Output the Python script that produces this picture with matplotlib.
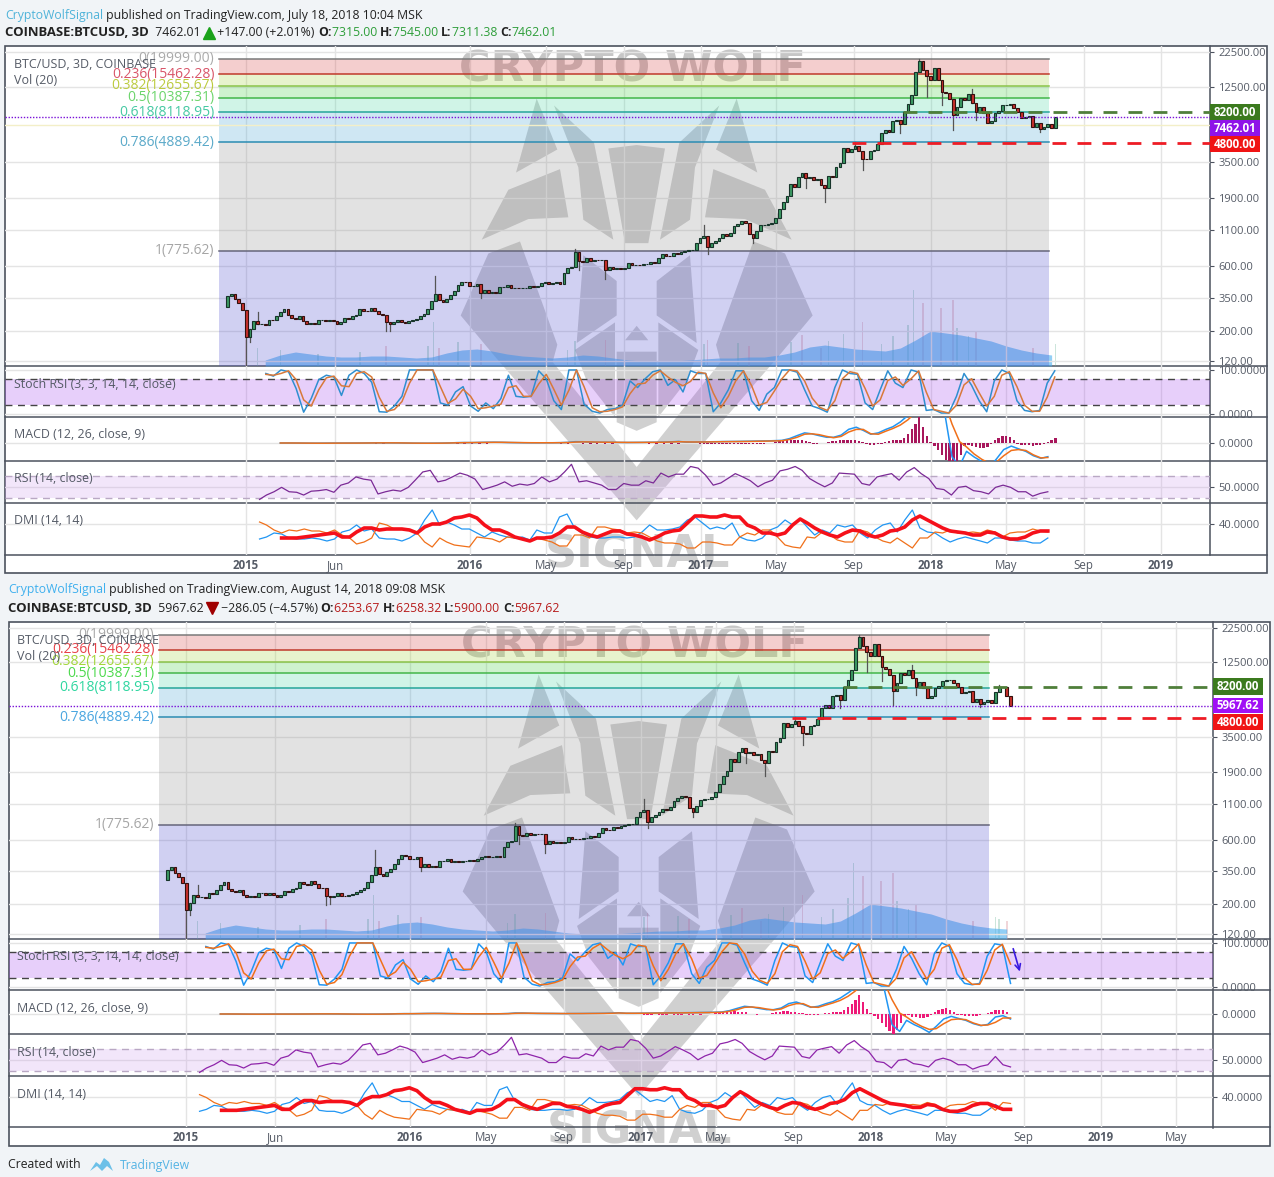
import numpy as np
import pandas as pd
import matplotlib
matplotlib.use('Agg')
import matplotlib.pyplot as plt
from matplotlib.patches import Polygon, Rectangle
from matplotlib.ticker import FormatStrFormatter, NullLocator

W, H = 1274, 1177
plt.rcParams['font.family'] = ['Open Sans', 'DejaVu Sans']

# --- prices, one close every 6 days from 2014-12-12
closes_2015 = [360, 375, 340, 320, 285, 180, 205, 235, 225, 225, 222, 240, 238, 255, 275, 290, 260, 250, 245, 255,
               235, 225, 228, 225, 240, 240, 235, 240, 235, 225, 232, 250, 245, 258, 262, 290, 280, 277, 295, 280,
               265, 262, 230, 225, 230, 240, 230, 228, 235, 238, 245, 255, 265, 290, 330, 375, 335, 325, 345, 365,
               395, 435, 460, 455, 430]
closes_2016 = [430, 445, 380, 400, 380, 385, 380, 420, 420, 435, 410, 415, 410, 415, 415, 425, 420, 430, 450, 455,
               445, 450, 455, 445, 530, 575, 590, 760, 650, 640, 680, 650, 665, 660, 660, 560, 590, 570, 580, 570,
               575, 625, 610, 610, 605, 615, 620, 640, 630, 680, 730, 710, 705, 750, 735, 755, 770, 780, 790, 890,
               965]
closes_2017 = [1000, 820, 890, 915, 970, 1025, 1000, 1050, 1175, 1220, 1280, 1240, 1030, 960, 1075, 1190, 1200, 1210,
               1245, 1350, 1570, 1780, 1950, 2400, 2280, 2700, 2900, 2650, 2700, 2550, 2600, 2350, 2250, 2750, 2700,
               3200, 3450, 4400, 4100, 4350, 4550, 4200, 3700, 3650, 4200, 4300, 4700, 5700, 6000, 5750, 7000, 7150,
               6600, 8200, 9300, 10900, 16000, 19400, 16500, 15000, 14000]
closes_2018 = [17200, 14000, 11500, 11200, 10100, 7700, 8800, 10400, 10000, 11000, 9500, 8200, 8900, 8000, 6800, 7000,
               8000, 8300, 9100, 9200, 9300, 8700, 8200, 7400, 7500, 7650, 6300, 6700, 6100, 6350, 6600, 6250, 7462.01,
               8200, 8200, 7000, 5967.62]

wick_dates = ['2015-01-11', '2015-01-17', '2015-01-29', '2015-08-21', '2015-08-27', '2015-11-07', '2016-01-18',
              '2016-06-16', '2016-06-22', '2016-08-03', '2017-01-06', '2017-01-12', '2017-03-25', '2017-06-17',
              '2017-07-17', '2017-09-03', '2017-09-15', '2017-11-14', '2017-12-14', '2017-12-26', '2018-01-19',
              '2018-02-06', '2018-03-08', '2018-03-14', '2018-06-24', '2018-07-24']
wick_prices = [111, 165, 275, 198, 200, 505, 350, 800, 560, 480, 1200, 740, 890, 2250, 1780, 4900, 3050, 5700, 19900,
               10500, 9150, 6000, 12000, 7100, 5780, 8500]

# --- volume, in pane units
vol_ma_dates = pd.date_range('2015-02-10', periods=54, freq='24D')
vol_ma = [6, 11, 14, 12, 10, 9, 9, 10, 10, 9, 8, 9, 13, 16, 17, 15, 12, 10, 9, 8, 9, 11, 10, 8, 6, 5, 5, 5, 6, 7, 8, 8,
          9, 9, 11, 14, 19, 21, 19, 17, 16, 15, 18, 26, 35, 33, 31, 28, 25, 20, 16, 13, 11, 10]
vol_up_dates = ['2015-01-29', '2015-03-06', '2015-05-05', '2015-07-10', '2015-10-26', '2015-11-04', '2015-12-13',
                '2016-06-04', '2016-06-16', '2017-01-06', '2017-03-01', '2017-05-24', '2017-07-23', '2017-08-16',
                '2017-10-15', '2017-11-02', '2017-11-26', '2017-12-05', '2018-02-12', '2018-03-02', '2018-07-18',
                '2018-07-24']
vol_up = [18, 16, 12, 14, 20, 44, 24, 16, 25, 22, 23, 24, 25, 32, 22, 30, 41, 76, 38, 30, 22, 20]
vol_down_dates = ['2015-01-11', '2015-08-21', '2015-11-13', '2016-01-18', '2016-08-03', '2017-01-12', '2017-03-19',
                  '2017-06-11', '2017-07-11', '2017-09-15', '2017-12-20', '2018-01-17', '2018-02-05', '2018-03-14',
                  '2018-06-12', '2018-08-05']
vol_down = [26, 20, 18, 22, 26, 26, 20, 31, 18, 44, 63, 58, 66, 34, 18, 18]

# --- oscillators, read every ~12 days
stoch_k = [92, 86, 100, 96, 58, 4, 35, 78, 88, 84, 42, 88, 100, 92, 72, 5, 4, 18, 40, 100, 100, 100, 100, 25, 20, 50,
           62, 18, 6, 25, 12, 35, 88, 40, 38, 40, 98, 80, 30, 10, 100, 100, 22, 6, 2, 10, 12, 20, 75, 60, 80, 96, 100,
           65, 78, 50, 98, 92, 92, 5, 25, 55, 98, 98, 30, 8, 45, 60, 100, 100, 95, 55, 18, 12, 4, 60, 100, 92, 90, 25,
           10, 55, 98, 70, 60, 100, 95, 8, 10, 2, 2, 40, 92, 65, 30, 5, 75, 100, 92, 30, 8, 5, 8, 70, 98, 95, 8]
stoch_d = [90, 88, 92, 98, 78, 32, 18, 55, 82, 86, 64, 62, 92, 96, 84, 38, 6, 10, 28, 70, 100, 100, 100, 62, 24, 34,
           56, 40, 12, 14, 18, 22, 60, 64, 40, 40, 68, 90, 56, 20, 54, 100, 62, 14, 5, 6, 10, 16, 46, 68, 70, 88, 98,
           84, 72, 64, 74, 95, 92, 48, 14, 40, 76, 98, 64, 20, 26, 52, 80, 100, 98, 75, 36, 15, 8, 30, 80, 96, 92, 58,
           18, 32, 76, 84, 65, 80, 98, 50, 10, 6, 2, 20, 66, 80, 48, 18, 40, 88, 96, 62, 20, 6, 6, 38, 84, 97, 52]
rsi = [28, 36, 42, 50, 42, 41, 36, 43, 44, 46, 41, 54, 58, 69, 65, 63, 38, 42, 45, 43, 50, 63, 78, 81, 60, 63, 69, 76,
       72, 65, 46, 50, 54, 60, 52, 56, 54, 57, 69, 60, 65, 78, 92, 60, 62, 58, 54, 46, 46, 57, 54, 54, 62, 58, 76, 69,
       74, 74, 88, 85, 72, 54, 58, 66, 75, 69, 62, 51, 58, 63, 80, 83, 88, 81, 66, 58, 51, 58, 76, 75, 74, 57, 54, 69,
       72, 75, 63, 78, 86, 75, 66, 48, 46, 36, 50, 52, 44, 42, 38, 50, 54, 50, 42, 42, 34, 39, 42, 57, 42, 38]
plus_di = [25, 27, 31, 30, 26, 25, 25, 26, 25, 23, 25, 32, 34, 39, 33, 35, 26, 25, 25, 23, 26, 31, 44, 54, 39, 42, 39,
           35, 35, 31, 27, 32, 29, 27, 26, 27, 24, 34, 31, 31, 47, 50, 36, 31, 27, 26, 26, 27, 27, 26, 27, 32, 39, 34,
           34, 35, 37, 44, 47, 41, 35, 37, 35, 41, 27, 24, 23, 26, 34, 37, 44, 39, 45, 37, 29, 34, 31, 39, 37, 39, 31,
           26, 34, 39, 41, 32, 44, 54, 36, 32, 31, 26, 22, 25, 27, 25, 23, 21, 26, 26, 24, 23, 23, 21, 21, 26, 32, 27,
           26]
minus_di = [42, 39, 34, 31, 34, 33, 35, 33, 33, 31, 34, 29, 26, 20, 22, 26, 41, 39, 35, 35, 34, 31, 22, 17, 26, 22, 19,
            18, 17, 27, 26, 25, 22, 27, 26, 25, 23, 26, 24, 22, 18, 18, 29, 29, 26, 37, 37, 35, 34, 31, 32, 31, 27, 23,
            21, 21, 20, 16, 16, 22, 22, 21, 19, 19, 27, 31, 29, 34, 34, 27, 19, 17, 16, 27, 26, 32, 29, 24, 22, 22, 34,
            32, 27, 23, 21, 26, 21, 16, 26, 26, 32, 31, 34, 31, 31, 32, 31, 34, 32, 27, 31, 32, 32, 35, 33, 32, 26, 34,
            33]
adx = [26, 26, 26, 27, 28, 29, 30, 31, 27, 27, 32, 36, 36, 34, 35, 35, 35, 34, 31, 37, 40, 40, 42, 46, 47, 49, 46, 39,
       34, 34, 31, 27, 25, 23, 26, 26, 27, 31, 37, 37, 32, 29, 27, 30, 33, 33, 30, 29, 27, 24, 27, 31, 33, 34, 41, 48,
       48, 47, 47, 49, 47, 47, 39, 36, 31, 31, 29, 31, 39, 45, 41, 36, 32, 29, 27, 31, 34, 33, 29, 27, 29, 33, 34, 37,
       44, 48, 44, 40, 36, 33, 32, 31, 29, 29, 32, 31, 27, 25, 25, 27, 31, 33, 33, 30, 27, 27]

macd_line = [0, 0, -2, -5, -8, -8, -6, -4, -3, -3, -2, -1, 2, 5, 6, 5, 3, -2, -6, -8, -8, -6, -4, 2, 15, 18, 16, 22, 28,
             30, 26, 18, 14, 10, 8, 8, 9, 10, 14, 25, 50, 48, 35, 30, 28, 26, 22, 20, 22, 24, 28, 30, 34, 45, 60,
             35, 35, 40, 45, 50, 55, 58, 60, 65, 70, 75, 80, 90, 100, 167, 280, 385, 350, 280, 217, 217, 300, 520, 600,
             480, 333, 385, 517, 617, 800, 1050, 1300, 1800, 2200, 2000, 1186, -530, -870, -317, -530, -700, -920,
             -620, -250, -117, -217, -317, -483, -583, -520, -150, -83, -250]
macd_signal = [0, 0, -1, -3, -5, -7, -7, -5, -4, -3, -3, -2, 0, 3, 5, 5, 4, 0, -4, -6, -8, -7, -5, 0, 8, 14, 16, 20, 24,
               27, 27, 22, 17, 13, 10, 9, 9, 9, 12, 18, 35, 42, 40, 34, 30, 28, 25, 22, 22, 23, 25, 28, 31, 38, 50,
               40, 38, 38, 40, 45, 50, 52, 55, 58, 62, 68, 72, 78, 85, 133, 217, 333, 350, 317, 250, 200, 250, 417, 517,
               517, 350, 333, 450, 550, 683, 883, 1133, 1470, 1720, 1890, 1550, 717, 50, -150, -417, -617, -770,
               -733, -483, -283, -250, -283, -450, -567, -550, -417, -200, -200]
hist_early = [0, 0, 0, 0, 0, 0, 0, 0, 0, 0, 0, 0, -18, -22, -22, -18, 0, 0, 0, 0, 0, 0, 0, -18, -22, -22, -20, -22, -20,
              0, 0, 0, 0, 0, 0, 0, 0, 0, -20, -22, 0, -22, -22, -24, -22, -20, 0, 0, 0, 0, -20, -22, -22, -22, -20]
hist_2017 = [-20, -25, -30, -25, -20, -30, -30, -25, -20, -25, -30, -25, -20, -30, -25, -20, -25, -20, -10, 10, 50, 70,
             90, 110, 120, 130, 120, 100, 80, 20, -20, -30, 0, 10, 20, 60, 90, 110, 130, 130, 120, 100, 70, 30, -40,
             -70, -70, -50, -20, 40, 70, 110, 100, 120, 200, 350, 520, 720, 970, 600, 250, 30, -100, -250, -450, -650,
             -850, -985, -800, -450, -100, -60, -130, -170, -180, -190, -170, -40, 120, 200, 260, 280, 220, 100, -30,
             -70, -80, -90, -100, -90, -60, -20, 50, 120, 180, 220, 200, 80, -20]
hist_2017_start = '2016-12-31'

# --- levels and labels
fib_ratios = ['0', '0.236', '0.382', '0.5', '0.618', '0.786', '1']
fib_levels = [19999.00, 15462.28, 12655.67, 10387.31, 8118.95, 4889.42, 775.62]
fib_start = '2014-11-28'
fib_end = '2018-07-08'
price_ticks = [22500, 12500, 3500, 1900, 1100, 600, 350, 200, 120]
resistance = 8200
support = 4800
resistance_start = '2017-11-18'
support_start = '2017-08-29'

tick_dates = ['2015-01-10', '2015-06-01', '2016-01-01', '2016-05-01', '2016-09-01', '2017-01-01', '2017-05-01',
              '2017-09-01', '2018-01-01', '2018-05-01', '2018-09-01', '2019-01-01', '2019-05-01']
tick_labels = ['2015', 'Jun', '2016', 'May', 'Sep', '2017', 'May', 'Sep', '2018', 'May', 'Sep', '2019', 'May']

ORIGIN = pd.Timestamp('2015-01-01')
PX_PER_DAY = 230 / 365
END_DATE = '2018-08-11'


def days(dates):
    return np.asarray((pd.to_datetime(dates) - ORIGIN).days, dtype=float)


price_dates = pd.date_range('2014-12-12', periods=len(closes_2015 + closes_2016 + closes_2017 + closes_2018), freq='6D')
closes = np.array(closes_2015 + closes_2016 + closes_2017 + closes_2018, dtype=float)
opens = np.concatenate([[300.0], closes[:-1]])

stoch_dates = pd.date_range('2015-02-11', END_DATE, periods=len(stoch_k))
rsi_dates = pd.date_range('2015-02-01', END_DATE, periods=len(rsi))
dmi_dates = pd.date_range('2015-02-01', END_DATE, periods=len(plus_di))
adx_dates = dmi_dates[-len(adx):]
macd_dates = pd.date_range('2015-03-06', END_DATE, periods=len(macd_line))
hist_dates = pd.date_range(hist_2017_start, periods=len(hist_2017), freq='6D')


def rect(l, r, t, b):
    return [l / W, 1 - b / H, (r - l) / W, (b - t) / H]


fig = plt.figure(figsize=(W / 100, H / 100), dpi=100, facecolor='#f1f4f7')

# underlay: white chart areas and the watermark, panes are transparent on top of it
under = fig.add_axes([0, 0, 1, 1], zorder=0)
under.set_xlim(0, W)
under.set_ylim(H, 0)
under.axis('off')
# overlay for all the header and label text
over = fig.add_axes([0, 0, 1, 1], zorder=5)
over.set_xlim(0, W)
over.set_ylim(H, 0)
over.axis('off')
over.patch.set_alpha(0)

renderer = fig.canvas.get_renderer()


def text_run(x, y, parts, size):
    # parts are (text, colour, weight, size factor)
    for s, c, w, f in parts:
        t = over.text(x, y, s, color=c, fontsize=size * f, fontweight=w, va='center', ha='left')
        x += t.get_window_extent(renderer).width
    return x


def mw(u, v):
    return 440 + u / 3, 40 + v / 2.904


half_shapes = [
    [(290, 170), (352, 318), (228, 385)],
    [(342, 190), (462, 298), (520, 580), (430, 522), (415, 370)],
    [(205, 435), (360, 375), (385, 515), (265, 520), (125, 580)],
    [(62, 800), (145, 620), (240, 585), (352, 885), (338, 935), (170, 925)],
    [(430, 625), (530, 700), (530, 800), (410, 880)],
    [(405, 900), (525, 820), (525, 1095), (440, 990)],
    [(170, 925), (338, 935), (590, 1240), (590, 1395)],
]
center_shapes = [
    [(505, 315), (590, 305), (675, 315), (625, 590), (555, 590)],
    [(590, 830), (625, 872), (555, 872)],
    [(530, 905), (650, 905), (650, 1110), (590, 1135), (530, 1110)],
]


def watermark(dx, dy):
    for shape in half_shapes:
        left = [(mw(u, v)[0] + dx, mw(u, v)[1] + dy) for u, v in shape]
        right = [(mw(1180 - u, v)[0] + dx, mw(1180 - u, v)[1] + dy) for u, v in shape]
        under.add_patch(Polygon(left, closed=True, fc='#444444', ec='none', alpha=0.25, zorder=2))
        under.add_patch(Polygon(right, closed=True, fc='#444444', ec='none', alpha=0.25, zorder=2))
    for shape in center_shapes:
        pts = [(mw(u, v)[0] + dx, mw(u, v)[1] + dy) for u, v in shape]
        under.add_patch(Polygon(pts, closed=True, fc='#444444', ec='none', alpha=0.25, zorder=2))
    under.text(632 + dx, 69 + dy, 'CRYPTO WOLF', fontsize=31, fontweight='bold', color='#444444', alpha=0.3,
               ha='center', va='center', zorder=2, fontfamily='DejaVu Sans')
    under.text(637 + dx, 555 + dy, 'SIGNAL', fontsize=32, fontweight='bold', color='#444444', alpha=0.25,
               ha='center', va='center', zorder=2, fontfamily='DejaVu Sans')


band_colors = ['#d73f3f', '#a3d33b', '#3fcf3f', '#47d7a3', '#43a3d3', '#8f8f8f']
fib_line_colors = ['#7a7a7a', '#c0392b', '#8bc34a', '#43b649', '#26a69a', '#2b8cb3', '#66667a']
GRID = '#e4e4e4'
AXIS = '#4c525e'
LABEL = '#555b66'


def draw_chart(left, right, sep, top, panes, px0, last_date, fib_text_colors, price_box, macd_ylim, legend_x,
               line_dark):
    main_b, st_b, mc_b, rs_b, dm_b, bot = panes
    under.add_patch(Rectangle((left, top), right - left, bot - top, fc='white', ec=AXIS, lw=1.2, zorder=1))
    for yy in [main_b, st_b, mc_b, rs_b, dm_b]:
        under.plot([left, right], [yy, yy], color=AXIS, lw=1.1, zorder=3)
    under.plot([sep, sep], [top, bot - 18], color=AXIS, lw=1.1, zorder=3)

    xlim = ((left - px0) / PX_PER_DAY, (sep - px0) / PX_PER_DAY)
    ax = fig.add_axes(rect(left, sep, top, main_b), zorder=2)
    st = fig.add_axes(rect(left, sep, main_b, st_b), zorder=2)
    mc = fig.add_axes(rect(left, sep, st_b, mc_b), zorder=2)
    rs = fig.add_axes(rect(left, sep, mc_b, rs_b), zorder=2)
    dm = fig.add_axes(rect(left, sep, rs_b, dm_b), zorder=2)
    for a in [ax, st, mc, rs, dm]:
        a.patch.set_alpha(0)
        for s in a.spines.values():
            s.set_visible(False)
        a.set_xticks(days(tick_dates))
        a.set_xlim(*xlim)
        a.grid(True, color=GRID, lw=1, zorder=0)
        a.set_axisbelow(True)
        a.yaxis.tick_right()
        a.tick_params(axis='y', length=3, width=0.8, color=AXIS, labelcolor=LABEL, labelsize=8, pad=3)
        a.tick_params(axis='x', length=0, labelbottom=False)

    # main pane
    ax.set_yscale('log')
    ax.set_ylim(110, 24900)
    ax.set_yticks(price_ticks)
    ax.yaxis.set_minor_locator(NullLocator())
    ax.yaxis.set_major_formatter(FormatStrFormatter('%.2f'))

    fx = days([fib_start, fib_end])
    for i, color in enumerate(band_colors):
        ax.fill_between(fx, fib_levels[i + 1], fib_levels[i], color=color, alpha=0.25, lw=0, zorder=1)
    ax.fill_between(fx, 110, fib_levels[-1], color='#4747cf', alpha=0.25, lw=0, zorder=1)
    for lvl, c, ratio, tc in zip(fib_levels, fib_line_colors, fib_ratios, fib_text_colors):
        ax.plot(fx, [lvl, lvl], color=c, lw=1.1, zorder=2)
        ax.annotate('%s(%.2f)' % (ratio, lvl), xy=(fx[0], lvl), xytext=(-3, 0), textcoords='offset points',
                    ha='right', va='center', color=tc, fontsize=10, annotation_clip=False, zorder=6)

    # volume sits in a twin axis behind the candles
    vol = ax.twinx()
    ax.yaxis.tick_right()
    vol.patch.set_alpha(0)
    vol.set_xlim(*xlim)
    vol.set_ylim(0, main_b - top)
    vol.axis('off')
    vol.set_zorder(ax.get_zorder() - 1)
    end_ts = pd.Timestamp(last_date)
    vd = vol_ma_dates[vol_ma_dates <= end_ts]
    vol.fill_between(days(vd), 0, vol_ma[:len(vd)], color='#4fb0f0', alpha=0.62, lw=0, zorder=2)
    for dates, vals, col in [(vol_up_dates, vol_up, '#6fb59a'), (vol_down_dates, vol_down, '#d98a94')]:
        mask = pd.to_datetime(dates) <= end_ts
        vol.bar(days(dates)[mask], np.array(vals)[mask], width=2.6, color=col, alpha=0.35, zorder=1)

    mask = price_dates <= end_ts
    x = days(price_dates[mask])
    o, c = opens[mask], closes[mask]
    up = c >= o
    wd = pd.to_datetime(wick_dates)
    keep = wd <= end_ts
    # wicks run from the level to the body of that bar
    for d, p in zip(wd[keep], np.array(wick_prices)[keep]):
        i = np.argmin(np.abs(price_dates - d))
        ax.plot(days([price_dates[i], price_dates[i]]), [p, closes[i]], color='#555555', lw=0.9, zorder=3)
    ax.bar(x[up], (c - o)[up], bottom=o[up], width=4.4, color='#3c9a63', edgecolor='#17342a', lw=0.8, zorder=4)
    ax.bar(x[~up], (o - c)[~up], bottom=c[~up], width=4.4, color='#c9302c', edgecolor='#33110f', lw=0.8, zorder=4)

    end = xlim[1]
    ax.plot([days([resistance_start])[0], end], [resistance, resistance], color='#4f7f3a', lw=2, ls=(0, (5, 4)), zorder=5)
    ax.plot([days([support_start])[0], end], [support, support], color='#ee1c25', lw=2, ls=(0, (5, 4)), zorder=5)
    ax.axhline(price_box[0], color='#7a10d8', lw=1, ls=(0, (1, 1.2)), zorder=5)
    if line_dark:
        ax.axhline(6530, color='#f3efc8', lw=1, zorder=2)

    # stoch
    st.set_ylim(-7, 109)
    st.set_yticks([0, 100])
    st.yaxis.set_major_formatter(FormatStrFormatter('%.4f'))
    st.axhspan(20, 80, color='#a343ef', alpha=0.25, lw=0, zorder=1)
    st.axhline(80, color='#444', lw=1, ls=(0, (5, 4)), zorder=2)
    st.axhline(20, color='#444', lw=1, ls=(0, (5, 4)), zorder=2)
    m = stoch_dates <= end_ts
    st.plot(days(stoch_dates[m]), np.array(stoch_k)[m], color='#2f8fd0' if line_dark else '#2196f3', lw=1.1, zorder=3)
    st.plot(days(stoch_dates[m]), np.array(stoch_d)[m], color='#d8793a' if line_dark else '#f0701a', lw=1.1, zorder=3)

    # macd
    mc.set_ylim(*macd_ylim)
    mc.set_yticks([0])
    mc.yaxis.set_major_formatter(FormatStrFormatter('%.4f'))
    m = hist_dates <= end_ts
    hist_col = '#a8175c' if line_dark else '#ee1a78'
    mc.bar(days(hist_dates[m]), np.array(hist_2017)[m], width=3.8, color=hist_col, zorder=2)
    mc.bar(days(macd_dates[:len(hist_early)]), hist_early, width=3.8, color=hist_col, zorder=2)
    m = macd_dates <= end_ts
    mc.plot(days(macd_dates[m]), np.array(macd_line)[m], color='#2196f3', lw=1.1, zorder=3)
    mc.plot(days(macd_dates[m]), np.array(macd_signal)[m], color='#f0701a', lw=1.1, zorder=3)

    # rsi
    rs.set_ylim(21.5, 98)
    rs.set_yticks([50])
    rs.yaxis.set_major_formatter(FormatStrFormatter('%.4f'))
    rs.axhspan(30, 70, color='#cf9fef', alpha=0.25, lw=0, zorder=1)
    rs.axhline(70, color='#b9a8c4', lw=1, ls=(0, (5, 4)), zorder=2)
    rs.axhline(30, color='#b9a8c4', lw=1, ls=(0, (5, 4)), zorder=2)
    m = rsi_dates <= end_ts
    rs.plot(days(rsi_dates[m]), np.array(rsi)[m], color='#7b2a96' if line_dark else '#8e24aa', lw=0.9, zorder=3)

    # dmi
    dm.set_ylim(9, 61)
    dm.set_yticks([40])
    dm.yaxis.set_major_formatter(FormatStrFormatter('%.4f'))
    m = dmi_dates <= end_ts
    dm.plot(days(dmi_dates[m]), np.array(plus_di)[m], color='#2196f3', lw=0.9, zorder=3)
    dm.plot(days(dmi_dates[m]), np.array(minus_di)[m], color='#f0701a', lw=0.9, zorder=3)
    m = adx_dates <= end_ts
    dm.plot(days(adx_dates[m]), np.array(adx)[m], color='#f5101a', lw=2.6, zorder=4)

    # time axis labels sit below the last pane
    dm.tick_params(axis='x', labelbottom=True, pad=3, labelsize=8.3, labelcolor=LABEL)
    dm.set_xticklabels(tick_labels)
    for lab, txt in zip(dm.get_xticklabels(), tick_labels):
        if txt.isdigit():
            lab.set_fontweight('bold')

    # pane legends
    over.text(legend_x, top + 18, 'BTC/USD, 3D, COINBASE', fontsize=9, color=LABEL, va='center')
    over.text(legend_x, top + 35, 'Vol (20)', fontsize=9, color=LABEL, va='center')
    over.text(legend_x, main_b + 18, 'Stoch RSI (3, 3, 14, 14, close)', fontsize=8.9, color=LABEL, va='center')
    over.text(legend_x, st_b + 18, 'MACD (12, 26, close, 9)', fontsize=8.9, color=LABEL, va='center')
    over.text(legend_x, mc_b + 18, 'RSI (14, close)', fontsize=8.9, color=LABEL, va='center')
    over.text(legend_x, rs_b + 18, 'DMI (14, 14)', fontsize=8.9, color=LABEL, va='center')

    # last value boxes
    for t0, t1, txt, col in price_box[1]:
        over.add_patch(Rectangle((sep, t0), 50, t1 - t0, fc=col, ec='none'))
        over.text(sep + 25, (t0 + t1) / 2, txt, color='white', fontsize=8.3, fontweight='bold', ha='center', va='center')
    return ax, st


green, red = '#2e9e3a', '#b71c1c'
dark = '#222222'

# top snapshot
watermark(0, 0)
draw_chart(5, 1267, 1210, 46, (366, 417, 461, 503, 555, 573), 240, '2018-07-18',
           ['#aaaaaa', '#d9566a', '#bccb3e', '#6bd46b', '#46c9a3', '#5aa9c9', '#a6a6a6'],
           (7462.01, [(104, 120, '8200.00', '#3b7a1e'), (120, 136, '7462.01', '#8f13e8'), (136, 152, '4800.00', '#f01414')]),
           (-684, 988), 14, True)
text_run(5, 15, [('CryptoWolfSignal', '#4fb3d9', 'normal', 1),
                 (' published on TradingView.com, July 18, 2018 10:04 MSK', dark, 'normal', 1)], 8.8)
x = text_run(5, 33, [('COINBASE:BTCUSD, 3D', dark, 'bold', 1.07), ('  7462.01 ', dark, 'normal', 1)], 8.8)
over.plot([x + 5], [33], marker='^', ms=8, color='#1aa21a')
text_run(x + 11, 33, [(' +147.00 (+2.01%) ', dark, 'normal', 1), ('O:', dark, 'bold', 1), ('7315.00 ', green, 'normal', 1),
                      ('H:', dark, 'bold', 1), ('7545.00 ', green, 'normal', 1), ('L:', dark, 'bold', 1),
                      ('7311.38 ', green, 'normal', 1), ('C:', dark, 'bold', 1), ('7462.01', green, 'normal', 1)], 8.8)

# bottom snapshot
watermark(2, 576)
_, st2 = draw_chart(9, 1270, 1213, 622, (939, 990, 1034, 1076, 1127, 1146), 180, END_DATE,
                    ['#aaaaaa', '#e8434a', '#a2d63a', '#4cd94c', '#2fd6a0', '#4aa6e0', '#a6a6a6'],
                    (5967.62, [(678, 695, '8200.00', '#3b7a1e'), (698, 713, '5967.62', '#a010f5'), (714, 730, '4800.00', '#f01414')]),
                    (-1000, 1200), 17, False)
st2.annotate('', xy=(1334, 29), xytext=(1321, 93), arrowprops=dict(arrowstyle='->', color='#3a19e0', lw=1.2))
text_run(8, 590, [('CryptoWolfSignal', '#3fb0ee', 'normal', 1),
                  (' published on TradingView.com, August 14, 2018 09:08 MSK', dark, 'normal', 1)], 8.8)
x = text_run(8, 608, [('COINBASE:BTCUSD, 3D', dark, 'bold', 1.07), ('  5967.62 ', dark, 'normal', 1)], 8.8)
over.plot([x + 5], [608], marker='v', ms=8, color='#a00000')
text_run(x + 11, 608, [(' \u2212286.05 (\u22124.57%) ', dark, 'normal', 1), ('O:', dark, 'bold', 1), ('6253.67 ', red, 'normal', 1),
                       ('H:', dark, 'bold', 1), ('6258.32 ', red, 'normal', 1), ('L:', dark, 'bold', 1),
                       ('5900.00 ', red, 'normal', 1), ('C:', dark, 'bold', 1), ('5967.62', red, 'normal', 1)], 8.8)

# footer
over.text(8, 1165, 'Created with', fontsize=8.8, color=dark, va='center')
over.add_patch(Polygon([(90, 1171), (96, 1162), (100, 1165), (104, 1158), (109, 1162), (113, 1171), (107, 1166), (102, 1171),
                        (97, 1166)], closed=True, fc='#6cc0e8', ec='none'))
over.text(120, 1165, 'TradingView', fontsize=8.8, color='#55b4e4', va='center')

fig.savefig('out.png', dpi=100, facecolor=fig.get_facecolor())
